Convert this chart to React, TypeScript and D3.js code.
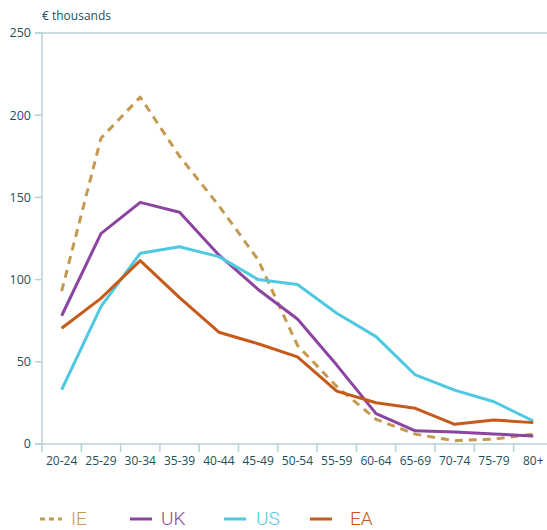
import React from "react";
import * as d3 from "d3";

const categories = ["20-24","25-29","30-34","35-39","40-44","45-49","50-54","55-59","60-64","65-69","70-74","75-79","80+"];
const ieValues = [93, 186, 211, 175, 145, 112, 60, 35, 15, 6, 2, 3, 6];
const ukValues = [78, 128, 147, 141, 115, 94, 76, 48, 18.5, 8, 7.3, 6.1, 4.8];
const usValues = [33, 83.5, 116, 120, 114, 100, 97, 79.5, 65.3, 42, 32.8, 25.7, 14];
const eaValues = [70.4, 88.6, 111.5, 89, 68, 61, 53, 32.2, 25.1, 21.7, 12, 14.6, 13];
const yTicks = [0, 50, 100, 150, 200, 250];

const series = [
  { name: "IE", values: ieValues, color: "#c49a52", dash: "8,6" },
  { name: "UK", values: ukValues, color: "#8b44a0", dash: "" },
  { name: "US", values: usValues, color: "#4ec9e1", dash: "" },
  { name: "EA", values: eaValues, color: "#c55a1b", dash: "" },
];

const W = 547, H = 530;
const left = 42, bandW = 39.3, top = 33, bottom = 444;
const axisColor = "#b7d0d8";
const textColor = "#1d4f5a";
const font = "'Open Sans', sans-serif";

export default function App() {
  const x = d3.scaleBand<string>().domain(categories).range([left, left + bandW * categories.length]).padding(0);
  const y = d3.scaleLinear().domain([0, 250]).range([bottom, top]);
  const cx = (c: string) => (x(c) as number) + x.bandwidth() / 2;
  const line = d3.line<number>().x((_, i) => cx(categories[i])).y((d) => y(d));
  const legendLineX = [40, 130, 224, 310];
  const legendTextX = [71, 161, 256, 350];
  return (
    <svg width={W} height={H} style={{ position: "absolute", left: 0, top: 0 }}>
      <rect width={W} height={H} fill="#fff" />
      <text x={left} y={20} fontFamily={font} fontSize={12} fill={textColor}>€ thousands</text>
      <line x1={left} x2={left} y1={top} y2={bottom} stroke={axisColor} strokeWidth={1.5} />
      <line x1={35} x2={W} y1={y(250)} y2={y(250)} stroke={axisColor} strokeWidth={1.5} />
      <line x1={35} x2={W} y1={y(0)} y2={y(0)} stroke={axisColor} strokeWidth={1.5} />
      {yTicks.map((t) => (
        <g key={t}>
          <line x1={35} x2={left} y1={y(t)} y2={y(t)} stroke={axisColor} strokeWidth={1.5} />
          <text x={31} y={y(t)} dy="0.35em" textAnchor="end" fontFamily={font} fontSize={12.5} fill={textColor}>{t}</text>
        </g>
      ))}
      {categories.map((c) => (
        <g key={c}>
          <line x1={x(c) as number} x2={x(c) as number} y1={bottom} y2={bottom + 8} stroke={axisColor} strokeWidth={1.5} />
          <text x={cx(c)} y={465} textAnchor="middle" fontFamily={font} fontSize={12} fill={textColor}>{c}</text>
        </g>
      ))}
      {series.map((s) => (
        <path key={s.name} d={line(s.values) as string} fill="none" stroke={s.color} strokeWidth={3}
          strokeDasharray={s.dash || undefined} strokeLinejoin="round" />
      ))}
      {series.map((s, i) => (
        <g key={s.name}>
          <line x1={legendLineX[i]} x2={legendLineX[i] + 22} y1={519} y2={519} stroke={s.color} strokeWidth={3}
            strokeDasharray={s.dash ? "5,4" : undefined} />
          <text x={legendTextX[i]} y={524.5} fontFamily="Roboto, sans-serif" fontWeight={300} fontSize={19} fill={s.color}>{s.name}</text>
        </g>
      ))}
    </svg>
  );
}
